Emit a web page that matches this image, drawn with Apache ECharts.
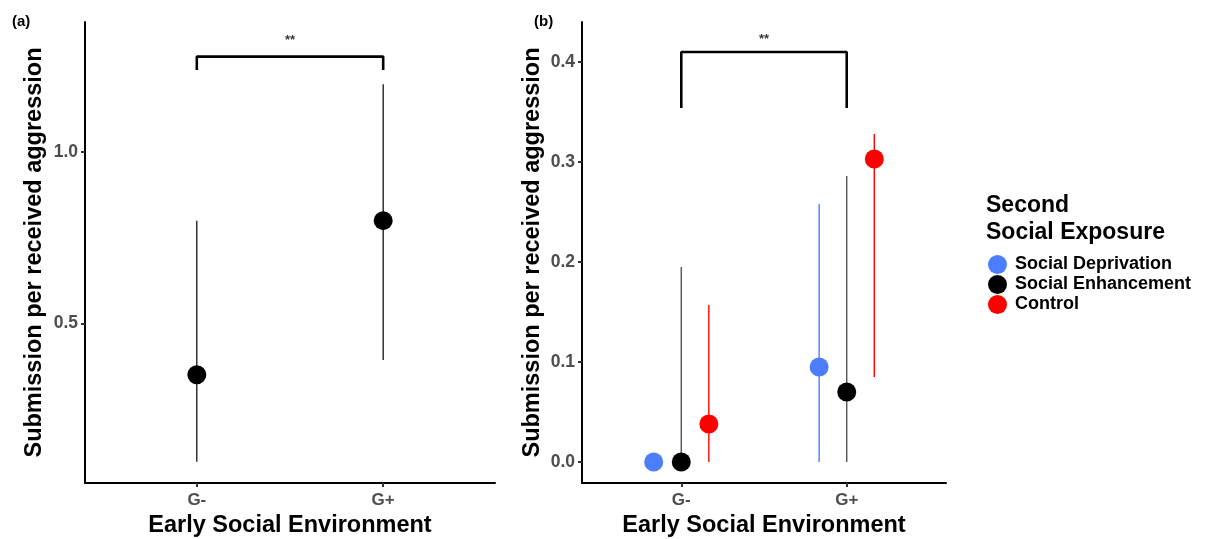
<!DOCTYPE html>
<html>
<head>
<meta charset="utf-8">
<script src="https://cdn.jsdelivr.net/npm/echarts@6/dist/echarts.min.js"></script>
<style>
  html, body { margin: 0; padding: 0; background: #fff; }
  #chart { width: 1207px; height: 539px; }
</style>
</head>
<body>
<div id="chart"></div>
<script>
// categories
const groups = ['G-', 'G+']
const exposures = ['Social Deprivation', 'Social Enhancement', 'Control']

// panel (a): overall estimate with interval
const aMean = [0.35, 0.80]
const aLower = [0.096, 0.393]
const aUpper = [0.80, 1.198]

// panel (b): by second social exposure
const deprivMean = [0.0, 0.095]
const deprivLower = [0.0, 0.0]
const deprivUpper = [0.0, 0.258]
const enhanceMean = [0.0, 0.07]
const enhanceLower = [0.0, 0.0]
const enhanceUpper = [0.195, 0.286]
const controlMean = [0.038, 0.303]
const controlLower = [0.0, 0.085]
const controlUpper = [0.157, 0.328]

// tick labels
const aTicks = [0.5, 1.0]
const bTicks = [0.0, 0.1, 0.2, 0.3, 0.4]

// significance brackets [foot, top, star label]
const aBracket = [1.24, 1.279, 1.326]
const bBracket = [0.354, 0.41, 0.423]

const FONT = 'Liberation Sans, Arial, sans-serif'
const colors = ['#4d7dff', '#000000', '#ff0000']
const barColors = ['#4d7dff', '#555555', '#ff0000']
const dodge = [-1 / 6, 0, 1 / 6]

const chart = echarts.init(document.getElementById('chart'))

function xAxisDef(gridIndex) {
  return {
    type: 'value', gridIndex, min: 0.4, max: 2.6,
    name: 'Early Social Environment', nameLocation: 'middle', nameGap: 31,
    nameTextStyle: { fontFamily: FONT, fontWeight: 'bold', fontSize: 23.5, color: '#000' },
    splitLine: { show: false },
    axisLine: { onZero: false, lineStyle: { color: '#000', width: 2 } },
    axisTick: { show: true, customValues: [1, 2], length: 4, lineStyle: { color: '#333', width: 2 } },
    axisLabel: {
      customValues: [1, 2], margin: 9,
      formatter: v => groups[Math.round(v) - 1],
      fontFamily: FONT, fontWeight: 'bold', fontSize: 17, color: '#4d4d4d',
    },
  }
}

function yAxisDef(gridIndex, min, max, ticks, gap) {
  return {
    type: 'value', gridIndex, min, max,
    name: 'Submission per received aggression', nameLocation: 'middle', nameGap: gap,
    nameTextStyle: { fontFamily: FONT, fontWeight: 'bold', fontSize: 23.5, color: '#000' },
    splitLine: { show: false },
    axisLine: { show: true, onZero: false, lineStyle: { color: '#000', width: 2 } },
    axisTick: { show: true, customValues: ticks, length: 4, lineStyle: { color: '#333', width: 2 } },
    axisLabel: {
      customValues: ticks, margin: 7,
      formatter: v => v.toFixed(1),
      fontFamily: FONT, fontWeight: 'bold', fontSize: 17.5, color: '#4d4d4d',
    },
  }
}

function errorBars(idx, name, lower, upper, color, width, offset) {
  return {
    type: 'custom', name, xAxisIndex: idx, yAxisIndex: idx, silent: true, z: 1,
    data: groups.map((g, i) => [i + 1 + offset, lower[i], upper[i]]),
    encode: { x: 0, y: [1, 2] },
    renderItem: (params, api) => {
      const lo = api.coord([api.value(0), api.value(1)])
      const hi = api.coord([api.value(0), api.value(2)])
      return {
        type: 'line',
        shape: { x1: lo[0], y1: lo[1], x2: hi[0], y2: hi[1] },
        style: { stroke: color, lineWidth: width },
      }
    },
  }
}

function points(idx, name, mean, color, offset) {
  return {
    type: 'scatter', name, xAxisIndex: idx, yAxisIndex: idx, z: 3,
    symbol: 'circle', symbolSize: 19,
    itemStyle: { color, opacity: 1 },
    data: groups.map((g, i) => [i + 1 + offset, mean[i]]),
  }
}

function bracket(idx, b) {
  return [
    {
      type: 'line', name: 'bracket' + idx, xAxisIndex: idx, yAxisIndex: idx, silent: true,
      symbol: 'none', lineStyle: { color: '#000', width: 2.6 },
      data: [[1, b[0]], [1, b[1]], [2, b[1]], [2, b[0]]],
    },
    {
      type: 'scatter', name: 'stars' + idx, xAxisIndex: idx, yAxisIndex: idx, silent: true,
      symbolSize: 0,
      label: { show: true, position: 'inside', formatter: '**', fontFamily: FONT, fontWeight: 'bold', fontSize: 13, color: '#000' },
      data: [[1.5, b[2]]],
    },
  ]
}

const bMeans = [deprivMean, enhanceMean, controlMean]
const bLowers = [deprivLower, enhanceLower, controlLower]
const bUppers = [deprivUpper, enhanceUpper, controlUpper]

chart.setOption({
  animation: false,
  backgroundColor: '#fff',
  title: [
    { text: '(a)', left: 7, top: 9, textStyle: { fontFamily: FONT, fontWeight: 'bold', fontSize: 15, color: '#000' } },
    { text: '(b)', left: 529, top: 9, textStyle: { fontFamily: FONT, fontWeight: 'bold', fontSize: 15, color: '#000' } },
    {
      text: 'Second\nSocial Exposure', left: 981, top: 187,
      textStyle: { fontFamily: FONT, fontWeight: 'bold', fontSize: 23, color: '#000', lineHeight: 27 },
    },
  ],
  legend: {
    data: exposures, orient: 'vertical', left: 983, top: 250,
    itemWidth: 19, itemHeight: 19, itemGap: 1, icon: 'circle',
    selectedMode: false,
    textStyle: { fontFamily: FONT, fontWeight: 'bold', fontSize: 18, lineHeight: 19, color: '#000', padding: [0, 0, 0, 3] },
  },
  grid: [
    { left: 85, top: 22, width: 410, height: 461, outerBoundsMode: 'none' },
    { left: 582, top: 22, width: 364, height: 461, outerBoundsMode: 'none' },
  ],
  xAxis: [xAxisDef(0), xAxisDef(1)],
  yAxis: [yAxisDef(0, 0.034, 1.38, aTicks, 38), yAxisDef(1, -0.021, 0.44, bTicks, 37)],
  series: [
    errorBars(0, 'a-range', aLower, aUpper, '#000', 1.2, 0),
    points(0, 'a-mean', aMean, '#000', 0),
    ...bracket(0, aBracket),
    ...exposures.map((name, k) => errorBars(1, name + ' range', bLowers[k], bUppers[k], barColors[k], 1.4, dodge[k])),
    ...exposures.map((name, k) => points(1, name, bMeans[k], colors[k], dodge[k])),
    ...bracket(1, bBracket),
  ],
})
</script>
</body>
</html>
